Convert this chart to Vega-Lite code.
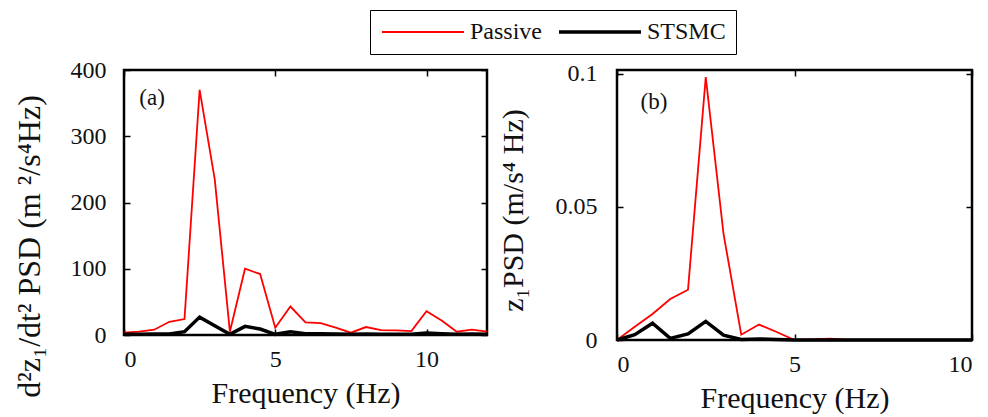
{
  "$schema": "https://vega.github.io/schema/vega-lite/v6.json",
  "background": "white",
  "padding": {"left": 11, "top": 9, "right": 8, "bottom": 5},
  "datasets": {
    "a": [
      {"f":0,"v":3.5,"s":"Passive"},{"f":0.5,"v":5,"s":"Passive"},{"f":1,"v":8,"s":"Passive"},{"f":1.5,"v":20,"s":"Passive"},{"f":2,"v":24,"s":"Passive"},{"f":2.5,"v":370,"s":"Passive"},{"f":3,"v":235,"s":"Passive"},{"f":3.5,"v":5,"s":"Passive"},{"f":4,"v":100,"s":"Passive"},{"f":4.5,"v":92,"s":"Passive"},{"f":5,"v":11,"s":"Passive"},{"f":5.5,"v":43,"s":"Passive"},{"f":6,"v":19,"s":"Passive"},{"f":6.5,"v":18,"s":"Passive"},{"f":7,"v":11,"s":"Passive"},{"f":7.5,"v":3.5,"s":"Passive"},{"f":8,"v":12,"s":"Passive"},{"f":8.5,"v":7.5,"s":"Passive"},{"f":9,"v":7,"s":"Passive"},{"f":9.5,"v":6,"s":"Passive"},{"f":10,"v":36,"s":"Passive"},{"f":10.5,"v":22,"s":"Passive"},{"f":11,"v":5,"s":"Passive"},{"f":11.5,"v":8,"s":"Passive"},{"f":12,"v":5,"s":"Passive"},
      {"f":0,"v":1,"s":"STSMC"},{"f":0.5,"v":1,"s":"STSMC"},{"f":1,"v":1.5,"s":"STSMC"},{"f":1.5,"v":1.5,"s":"STSMC"},{"f":2,"v":5,"s":"STSMC"},{"f":2.5,"v":27,"s":"STSMC"},{"f":3,"v":14,"s":"STSMC"},{"f":3.5,"v":1,"s":"STSMC"},{"f":4,"v":13,"s":"STSMC"},{"f":4.5,"v":9,"s":"STSMC"},{"f":5,"v":1,"s":"STSMC"},{"f":5.5,"v":5,"s":"STSMC"},{"f":6,"v":2,"s":"STSMC"},{"f":6.5,"v":2,"s":"STSMC"},{"f":7,"v":1.5,"s":"STSMC"},{"f":7.5,"v":1,"s":"STSMC"},{"f":8,"v":1.5,"s":"STSMC"},{"f":8.5,"v":1,"s":"STSMC"},{"f":9,"v":1,"s":"STSMC"},{"f":9.5,"v":1,"s":"STSMC"},{"f":10,"v":3,"s":"STSMC"},{"f":10.5,"v":2,"s":"STSMC"},{"f":11,"v":1,"s":"STSMC"},{"f":11.5,"v":1.5,"s":"STSMC"},{"f":12,"v":1,"s":"STSMC"}
    ],
    "b": [
      {"f":0,"v":0,"s":"Passive"},{"f":0.5,"v":0.005,"s":"Passive"},{"f":1,"v":0.0098,"s":"Passive"},{"f":1.5,"v":0.0154,"s":"Passive"},{"f":2,"v":0.0189,"s":"Passive"},{"f":2.5,"v":0.0988,"s":"Passive"},{"f":3,"v":0.04,"s":"Passive"},{"f":3.5,"v":0.002,"s":"Passive"},{"f":4,"v":0.0058,"s":"Passive"},{"f":4.5,"v":0.003,"s":"Passive"},{"f":5,"v":0,"s":"Passive"},{"f":5.5,"v":0.0002,"s":"Passive"},{"f":6,"v":0.0005,"s":"Passive"},{"f":6.5,"v":0,"s":"Passive"},{"f":7,"v":0,"s":"Passive"},{"f":7.5,"v":0,"s":"Passive"},{"f":8,"v":0,"s":"Passive"},{"f":8.5,"v":0,"s":"Passive"},{"f":9,"v":0,"s":"Passive"},{"f":9.5,"v":0,"s":"Passive"},{"f":10,"v":0,"s":"Passive"},
      {"f":0,"v":0,"s":"STSMC"},{"f":0.5,"v":0.002,"s":"STSMC"},{"f":1,"v":0.0063,"s":"STSMC"},{"f":1.5,"v":0.0006,"s":"STSMC"},{"f":2,"v":0.0023,"s":"STSMC"},{"f":2.5,"v":0.007,"s":"STSMC"},{"f":3,"v":0.0018,"s":"STSMC"},{"f":3.5,"v":0.0002,"s":"STSMC"},{"f":4,"v":0.0004,"s":"STSMC"},{"f":4.5,"v":0.0002,"s":"STSMC"},{"f":5,"v":0,"s":"STSMC"},{"f":5.5,"v":0,"s":"STSMC"},{"f":6,"v":0,"s":"STSMC"},{"f":6.5,"v":0,"s":"STSMC"},{"f":7,"v":0,"s":"STSMC"},{"f":7.5,"v":0,"s":"STSMC"},{"f":8,"v":0,"s":"STSMC"},{"f":8.5,"v":0,"s":"STSMC"},{"f":9,"v":0,"s":"STSMC"},{"f":9.5,"v":0,"s":"STSMC"},{"f":10,"v":0,"s":"STSMC"}
    ]
  },
  "config": {
    "font": "Liberation Serif, serif",
    "view": {"stroke": "black", "strokeWidth": 2.5},
    "axis": {"grid": false, "domain": false, "tickColor": "black", "tickSize": -6, "tickWidth": 1.5, "labelFont": "Liberation Serif, serif", "labelFontSize": 24, "labelColor": "#111", "titleFont": "Liberation Serif, serif", "titleFontSize": 26, "titleColor": "#111"},
    "axisX": {"labelPadding": 18, "titlePadding": 7},
    "axisY": {"labelPadding": 24},
    "legend": {"labelFont": "Liberation Serif, serif"},
    "concat": {"spacing": 0}
  },
  "hconcat": [
    {
      "width": 363, "height": 265,
      "layer": [
        {
          "data": {"name": "a"},
          "mark": {"type": "line"},
          "encoding": {
            "x": {"field": "f", "type": "quantitative", "scale": {"domain": [0, 12], "nice": false}, "axis": {"values": [0, 5, 10], "title": "Frequency (Hz)", "titleFontWeight": 400, "titleFontSize": 30}},
            "y": {"field": "v", "type": "quantitative", "scale": {"domain": [0, 400], "nice": false}, "axis": {"values": [0, 100, 200, 300, 400], "title": "d²z₁/dt² PSD (m ²/s⁴Hz)", "titleFontWeight": 400, "titleFontSize": 32, "titlePadding": 24, "titleY": 176}},
            "color": {"field": "s", "type": "nominal", "scale": {"domain": ["Passive", "STSMC"], "range": ["#ff0000", "#000000"]},
              "legend": {"orient": "none", "legendX": 246, "legendY": -60, "direction": "horizontal", "title": null, "symbolType": "M-1,0H7.2", "symbolSize": 400, "labelFontSize": 24, "labelColor": "#111", "strokeColor": "black", "padding": 10, "columnPadding": 10, "labelOffset": 66, "fillColor": "white"}},
            "strokeWidth": {"field": "s", "type": "nominal", "scale": {"domain": ["Passive", "STSMC"], "range": [1.8, 3.5]},
              "legend": {"orient": "none", "legendX": 246, "legendY": -60, "direction": "horizontal", "title": null, "symbolType": "M-1,0H7.2", "symbolSize": 400, "labelFontSize": 24, "labelColor": "#111", "strokeColor": "black", "padding": 10, "columnPadding": 10, "labelOffset": 66, "fillColor": "white"}}
          }
        },
        {
          "data": {"values": [{"f": 0.93, "v": 358, "t": "(a)"}]},
          "mark": {"type": "text", "fontSize": 23, "color": "#111"},
          "encoding": {
            "x": {"field": "f", "type": "quantitative", "axis": {"orient": "top", "labels": false, "title": null, "values": [0, 5, 10]}},
            "y": {"field": "v", "type": "quantitative", "axis": {"orient": "right", "labels": false, "title": null, "values": [0, 100, 200, 300, 400]}},
            "text": {"field": "t"}
          }
        }
      ],
      "resolve": {"axis": {"x": "independent", "y": "independent"}}
    },
    {
      "width": 355, "height": 270,
      "layer": [
        {
          "data": {"name": "b"},
          "mark": {"type": "line"},
          "encoding": {
            "x": {"field": "f", "type": "quantitative", "scale": {"domain": [0, 10], "nice": false}, "axis": {"values": [0, 5, 10], "title": "Frequency (Hz)", "titleFontWeight": 400, "titleFontSize": 30}},
            "y": {"field": "v", "type": "quantitative", "scale": {"domain": [0, 0.1015], "nice": false}, "axis": {"values": [0, 0.05, 0.1], "format": "~g", "title": "z₁PSD (m/s⁴ Hz)", "titleFontWeight": 400, "titleFontSize": 30, "labelPadding": 26, "titlePadding": 27, "titleY": 140}},
            "color": {"field": "s", "type": "nominal", "scale": {"domain": ["Passive", "STSMC"], "range": ["#ff0000", "#000000"]}},
            "strokeWidth": {"field": "s", "type": "nominal", "scale": {"domain": ["Passive", "STSMC"], "range": [1.8, 3.5]}}
          }
        },
        {
          "data": {"values": [{"f": 1.04, "v": 0.0895, "t": "(b)"}]},
          "mark": {"type": "text", "fontSize": 23, "color": "#111"},
          "encoding": {
            "x": {"field": "f", "type": "quantitative", "axis": {"orient": "top", "labels": false, "title": null, "values": [0, 5, 10]}},
            "y": {"field": "v", "type": "quantitative", "axis": {"orient": "right", "labels": false, "title": null, "values": [0, 0.05, 0.1]}},
            "text": {"field": "t"}
          }
        }
      ],
      "resolve": {"axis": {"x": "independent", "y": "independent"}}
    }
  ]
}
